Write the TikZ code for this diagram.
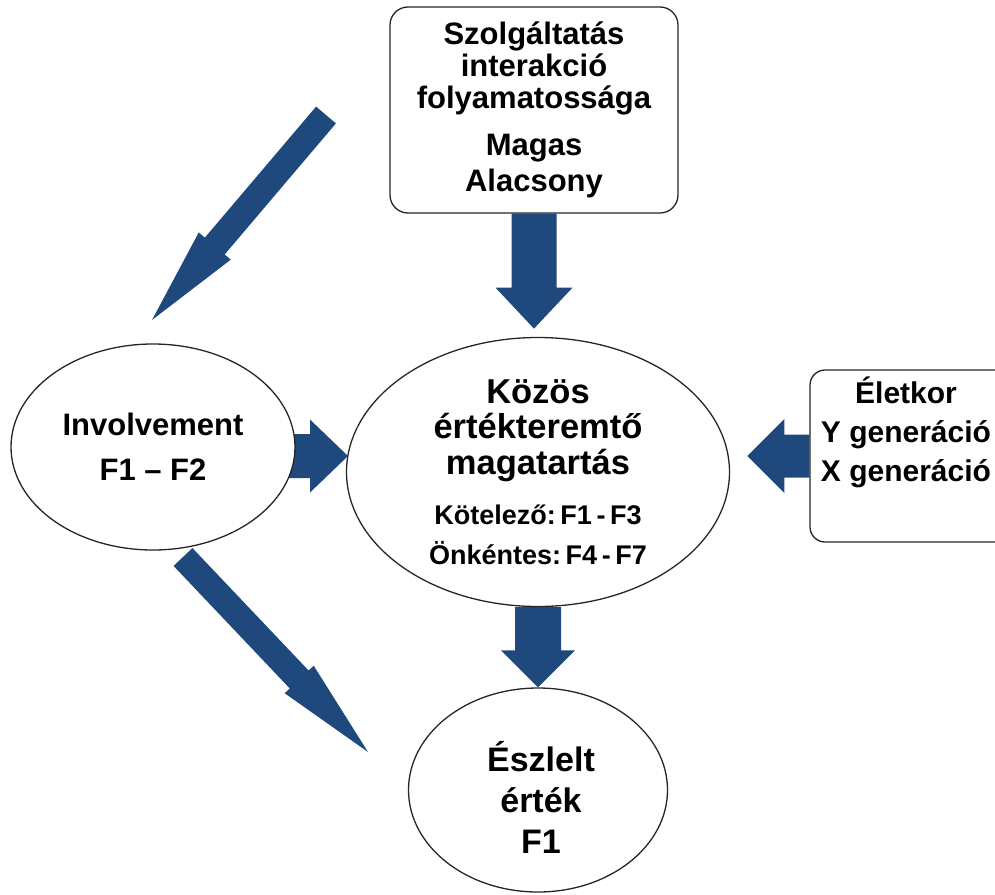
\documentclass[tikz,border=0pt]{standalone}
\usepackage{fontspec}
\setmainfont{Liberation Sans}
\usetikzlibrary{shapes.geometric,calc,backgrounds}
\definecolor{arrowblue}{HTML}{1F497D}
% tail, tip, half shaft, half head, head length
\newcommand\blockarrow[5]{\path ($(#2)!#5!(#1)$) coordinate (hb);
  \fill[arrowblue] ($(#1)!#3!90:(#2)$)--($(hb)!#3!90:(#2)$)--($(hb)!#4!90:(#2)$)--(#2)
    --($(hb)!#4!-90:(#2)$)--($(hb)!#3!-90:(#2)$)--($(#1)!#3!-90:(#2)$)--cycle;}
\newcommand\thin{\hspace{.17em}}
\begin{document}
\begin{tikzpicture}[x=1pt,y=-1pt,
    every node/.style={font=\bfseries,align=center},
    oval/.style={ellipse,draw=black!85,line width=1.3pt,fill=white,inner sep=0pt},
    panel/.style={rectangle,rounded corners=18pt,draw=black!85,line width=1.3pt,fill=white,inner sep=0pt}]
    \useasboundingbox (0,0) rectangle (995,894);
    \node[panel,minimum width=288pt,minimum height=206pt,font=\bfseries\fontsize{31}{32}\selectfont](szolg) at (534,110)
        {Szolgáltatás\\interakció\\folyamatossága\\[15pt]Magas\\[4pt]Alacsony};
    \node[oval,minimum width=284pt,minimum height=206pt,font=\bfseries\fontsize{31}{45}\selectfont](inv) at (153,447)
        {Involvement\\F1 -- F2};
    \node[oval,minimum width=383pt,minimum height=269pt,font=\bfseries\fontsize{34.5}{35.5}\selectfont](kozos) at (538,472)
        {Közös\\értékteremtő\\magatartás\\[14.5pt]{\fontsize{27}{35.5}\selectfont Kötelező:\thin F1\thin-\thin F3}\\[4.5pt]{\fontsize{27}{35.5}\selectfont Önkéntes:\thin F4\thin-\thin F7}};
    \node[oval,minimum width=259pt,minimum height=204pt](eszlelt) at (538,790){};
    \node[font=\bfseries\fontsize{34}{41}\selectfont](eszleltText) at (541,797){Észlelt\\érték\\F1};
    \node[panel,rounded corners=15pt,minimum width=200pt,minimum height=172pt](kor) at (910,456){};
    \node[font=\bfseries\fontsize{30}{39}\selectfont](korText) at (906,432){Életkor\\Y generáció\\X generáció};
    \coordinate (diagTail) at (326,115);\coordinate (diagTip) at (152,320);
    \coordinate (invTail) at (285,456);\coordinate (invTip) at (348,456);
    \coordinate (lowTail) at (183,557);\coordinate (lowTip) at (368,752);
    \begin{scope}[on background layer]
        \blockarrow{szolg.south}{$(szolg.south)+(0,115)$}{22.5pt}{38.5pt}{41pt}
        \blockarrow{diagTail}{diagTip}{13pt}{21pt}{97pt}
        \blockarrow{invTail}{invTip}{22pt}{36.5pt}{38pt}
        \blockarrow{kor.west}{$(kor.west)+(-62,0)$}{21.5pt}{37pt}{37pt}
        \blockarrow{kozos.south}{eszlelt.north}{23pt}{37pt}{37pt}
        \blockarrow{lowTail}{lowTip}{13pt}{20pt}{100pt}
    \end{scope}
\end{tikzpicture}
\end{document}
